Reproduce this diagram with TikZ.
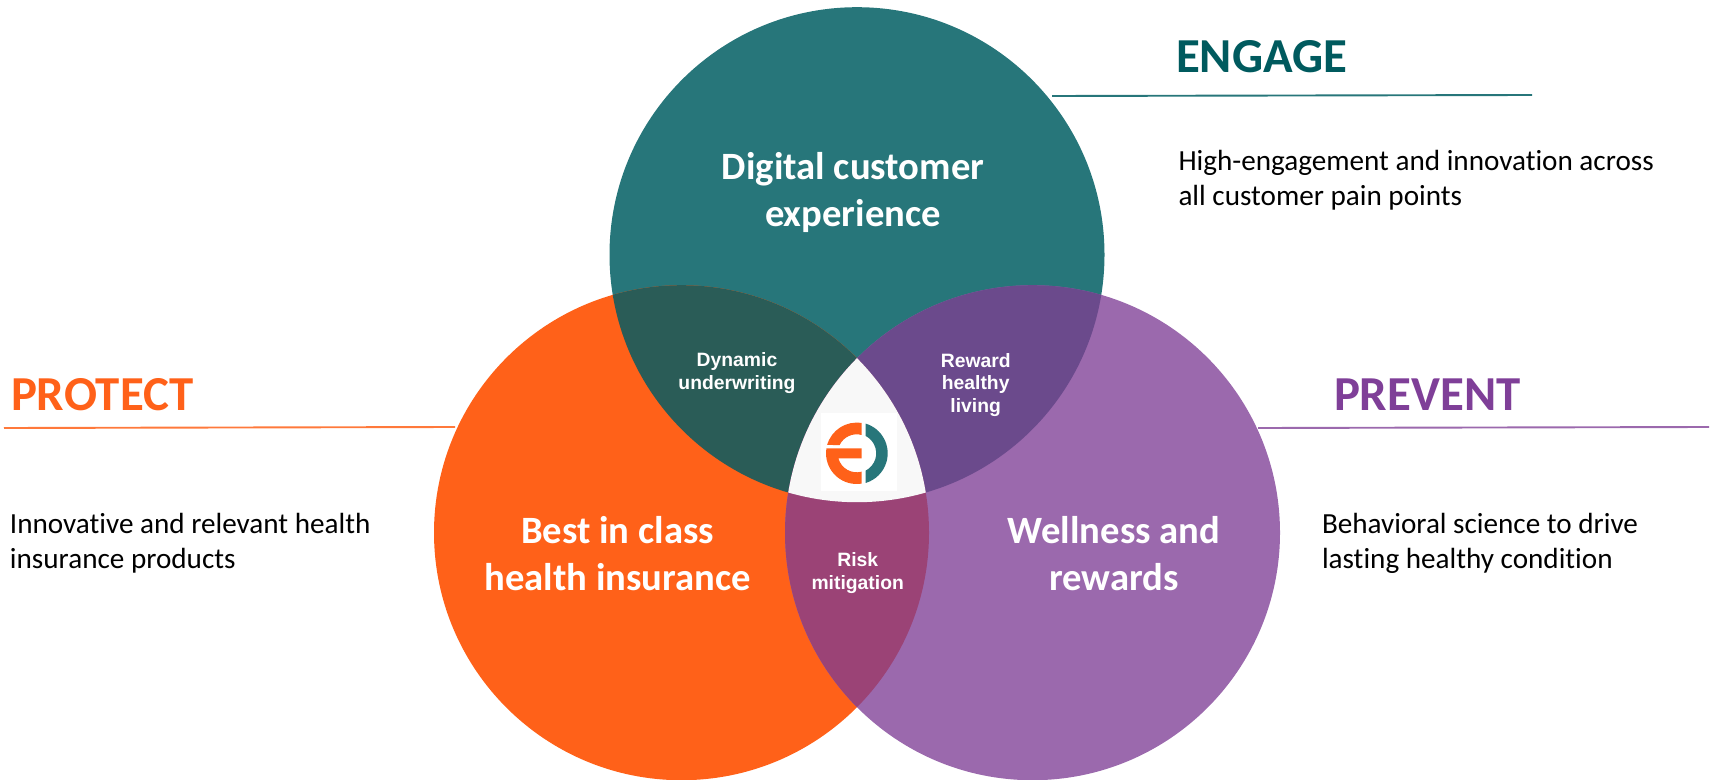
\documentclass[tikz,border=0pt]{standalone}
\usepackage{fontspec}
\setmainfont{Carlito}[RawFeature=-liga]
\newfontfamily\arialfont{Liberation Sans}
\usetikzlibrary{positioning}
\definecolor{engagecol}{RGB}{39,118,122}
\definecolor{engagetxt}{RGB}{0,90,94}
\definecolor{protectcol}{RGB}{255,97,25}
\definecolor{preventcol}{RGB}{155,105,173}
\definecolor{preventtxt}{RGB}{127,63,152}
\definecolor{dynamiccol}{RGB}{42,92,87}
\definecolor{rewardcol}{RGB}{107,74,140}
\definecolor{riskcol}{RGB}{155,67,118}
\definecolor{centercol}{RGB}{248,248,248}
\def\engagepath{(857,524.3) circle (247.5)}
\def\protectpath{(681.5,246.3) circle (247.5)}
\def\preventpath{(1032.5,246.3) circle (247.5)}

\begin{document}
\begin{tikzpicture}[
  x=0.02cm,y=0.02cm,
  every node/.style={inner sep=0pt,outer sep=0pt},
  title/.style={anchor=base west,font=\fontsize{27.8}{30}\selectfont\bfseries},
  descr/.style={anchor=base west,align=left,text=black,font=\fontsize{16.6}{19.84}\selectfont},
  bigtext/.style={anchor=base,align=center,text=white,font=\fontsize{22}{26.6}\selectfont\bfseries},
  smalltext/.style={anchor=base,align=center,text=white,font=\arialfont\fontsize{11}{13}\selectfont\bfseries},
  rule/.style={line width=1.9*0.02cm}
]
  \useasboundingbox (0,0) rectangle (1711,779);

  % circles
  \fill[engagecol] \engagepath;
  \fill[protectcol] \protectpath;
  \fill[preventcol] \preventpath;
  \begin{scope}
    \clip \engagepath;
    \fill[dynamiccol] \protectpath;
    \fill[rewardcol] \preventpath;
  \end{scope}
  \begin{scope}
    \clip \protectpath;
    \fill[riskcol] \preventpath;
    \clip \preventpath;
    \fill[centercol] \engagepath;
  \end{scope}

  % logo
  \fill[white] (821,288) rectangle (896.7,365.7);
  \begin{scope}[shift={(856.7,325.7)}]
    \fill[protectcol] (80.6:30.7) arc (80.6:164.3:30.7) -- (154.1:19) arc (154.1:74.7:19) -- cycle;
    \fill[protectcol] (170.6:30.7) arc (170.6:279.4:30.7) -- (285.3:19) arc (285.3:195.3:19) -- (5,-5) -- (5,5) -- cycle;
    \fill[engagecol] (73.1:31) arc (73.1:-73.1:31) -- (-62.5:19.5) arc (-62.5:62.5:19.5) -- cycle;
  \end{scope}

  % rules
  \coordinate (engageL) at (1052,683);
  \coordinate (engageR) at (1532,684);
  \coordinate (protectL) at (4,351);
  \coordinate (protectR) at (455,352);
  \coordinate (preventL) at (1258,351);
  \coordinate (preventR) at (1709,352);
  \draw[rule,engagecol] (engageL) -- (engageR);
  \draw[rule,protectcol!85!white] (protectL) -- (protectR);
  \draw[rule,preventcol] (preventL) -- (preventR);

  % titles and texts
  \node[title,text=engagetxt] (engage) at (1176,706.3) {ENGAGE};
  \node[title,text=protectcol] (protect) at (11,369) {PROTECT};
  \node[title,text=preventtxt] (prevent) at (1334,369) {PREVENT};
  \node[descr] (engagetext) at (1178.5,574) {High-engagement and innovation across\\all customer pain points};
  \node[descr] (protecttext) at (10,211) {Innovative and relevant health\\insurance products};
  \node[descr] (preventtext) at (1322,211) {Behavioral science to drive\\lasting healthy condition};

  % circle labels
  \node[bigtext] (digital) at (853,553) {Digital customer\\experience};
  \node[bigtext] (best) at (617.6,189) {Best in class\\health insurance};
  \node[bigtext] (wellness) at (1114,189) {Wellness and\\rewards};
  \node[smalltext] (dynamic) at (737,390) {Dynamic\\underwriting};
  \node[smalltext] (reward) at (975.7,366.3) {Reward\\healthy\\living};
  \node[smalltext] (risk) at (857.7,189.7) {Risk\\mitigation};
\end{tikzpicture}
\end{document}
